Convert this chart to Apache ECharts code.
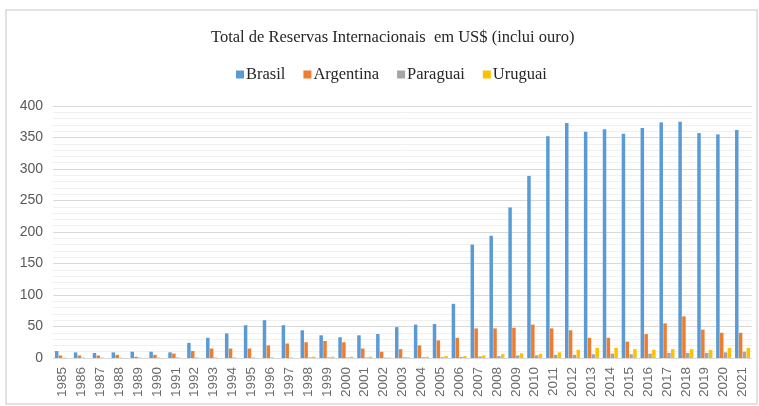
<!DOCTYPE html>
<html><head><meta charset="utf-8">
<script src="https://cdn.jsdelivr.net/npm/echarts@6/dist/echarts.min.js"></script>
<style>html,body{margin:0;padding:0;background:#fff}#c{width:759px;height:406px}</style>
</head><body><div id="c"></div>
<script>
const years = ['1985','1986','1987','1988','1989','1990','1991','1992','1993','1994','1995','1996','1997','1998','1999','2000','2001','2002','2003','2004','2005','2006','2007','2008','2009','2010','2011','2012','2013','2014','2015','2016','2017','2018','2019','2020','2021'];
const brasil = [11,9,8,9,10,10,9,24,32,39,52,60,52,44,36,33,36,38,49,53,54,86,180,194,239,289,352,373,359,363,356,365,374,375,357,355,362];
const argentina = [4,4,4,5,2,5,7,11,15,15,15,20,23,25,27,25,15,10,14,20,28,32,47,47,48,53,47,44,32,32,26,38,55,66,45,40,40];
const paraguai = [0.5,0.5,0.5,0.5,0.5,0.5,0.7,0.7,0.7,0.7,0.8,0.8,0.8,0.9,1,0.8,0.7,0.6,1,1.2,1.3,1.7,2.5,2.9,4,4.2,5,5,6,7,6,7,8,8,8,9,10];
const uruguai = [null,null,null,null,null,null,null,null,null,null,null,null,null,2,2,2,2,0.8,1,2,3,3,4,6,7.5,6.5,9,13,16,16,14,13,14,14,13,16,16];
const yTicks = [0,50,100,150,200,250,300,350,400];

const chart = echarts.init(document.getElementById('c'), null, {renderer:'canvas'});
const mk = (name, data, color) => ({name, type:'bar', data, barWidth:3.5, barGap:'10%', itemStyle:{color}});
chart.setOption({
  animation:false,
  graphic:[{type:'rect', shape:{x:6,y:10,width:751,height:394}, style:{fill:'none', stroke:'#d9d9d9', lineWidth:1.5}, silent:true}],
  title:{text:'Total de Reservas Internacionais  em US$ (inclui ouro)', left:206, top:24,
    textStyle:{fontFamily:'Liberation Serif', fontSize:16.5, fontWeight:'normal', color:'#262626'}},
  legend:{top:61, left:231, itemWidth:8, itemHeight:8, itemGap:18, icon:'rect',
    textStyle:{fontFamily:'Liberation Serif', fontSize:16.5, color:'#262626', padding:[0,0,0,-3]},
    data:['Brasil','Argentina','Paraguai','Uruguai']},
  grid:{left:53, right:7, top:106, bottom:48, containLabel:false},
  xAxis:{type:'category', data:years, axisTick:{show:false},
    axisLine:{lineStyle:{color:'#d9d9d9', width:1}},
    axisLabel:{rotate:90, color:'#6b6b6b', fontSize:13.5, fontFamily:'Liberation Sans', margin:9, interval:0}},
  yAxis:{type:'value', min:yTicks[0], max:yTicks[yTicks.length-1], interval:50,
    axisLine:{show:false}, axisTick:{show:false},
    axisLabel:{color:'#595959', fontSize:14, fontFamily:'Liberation Sans', margin:10},
    splitLine:{lineStyle:{color:'#d9d9d9', width:1}},
    minorTick:{show:false, splitNumber:5},
    minorSplitLine:{show:true, lineStyle:{color:'#f0f0f0', width:1}}},
  series:[mk('Brasil',brasil,'#5B9BD5'), mk('Argentina',argentina,'#ED7D31'), mk('Paraguai',paraguai,'#A5A5A5'), mk('Uruguai',uruguai,'#FFC000')]
});
</script></body></html>
